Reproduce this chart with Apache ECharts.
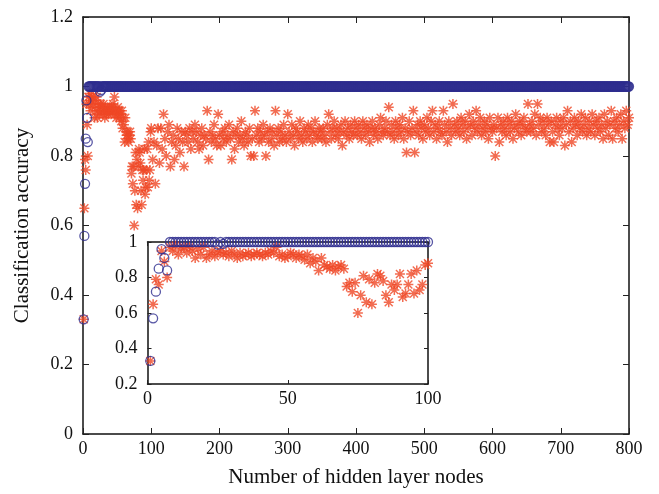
<!DOCTYPE html>
<html>
<head>
<meta charset="utf-8">
<script src="https://cdn.jsdelivr.net/npm/echarts@6/dist/echarts.min.js"></script>
<style>
  html, body { margin: 0; padding: 0; background: #fff; }
  #main { width: 659px; height: 494px; }
</style>
</head>
<body>
<div id="main"></div>
<script>
    // accuracy of the blue (circle) run, nodes 1..30; after that every node sits at 1
    var blueHead = [0.33, 0.57, 0.72, 0.85, 0.96, 0.91, 0.84, 1, 1, 1,
                    1, 1, 1, 1, 1, 1, 1, 1, 1, 1,
                    1, 1, 1, 1, 0.985, 1, 0.99, 1, 1, 1];
    var blueFlat = 1;
    var nodeCount = 800;

    // red (asterisk) run, nodes 1..100, one value per node (also drawn in the inset)
    var redHead = [0.33, 0.65, 0.79, 0.76, 0.95, 0.89, 0.80, 0.97, 0.95, 0.98,
                   0.93, 0.96, 0.97, 0.94, 0.97, 0.95, 0.91, 0.96, 0.93, 0.97,
                   0.91, 0.93, 0.95, 0.92, 0.94, 0.95, 0.93, 0.94, 0.92, 0.95,
                   0.93, 0.91, 0.94, 0.92, 0.93, 0.94, 0.92, 0.93, 0.94, 0.93,
                   0.92, 0.94, 0.93, 0.95, 0.94, 0.97, 0.92, 0.93, 0.91, 0.92,
                   0.94, 0.93, 0.91, 0.93, 0.92, 0.90, 0.93, 0.88, 0.91, 0.89,
                   0.84, 0.91, 0.87, 0.86, 0.85, 0.87, 0.84, 0.86, 0.87, 0.85,
                   0.75, 0.77, 0.72, 0.77, 0.60, 0.70, 0.81, 0.66, 0.79, 0.65,
                   0.77, 0.82, 0.81, 0.78, 0.70, 0.66, 0.76, 0.73, 0.76, 0.82,
                   0.69, 0.71, 0.76, 0.82, 0.71, 0.84, 0.73, 0.76, 0.87, 0.88];

    // red run, nodes 102..800 every 2nd node, in percent
    var redTailStart = 102, redTailStep = 2;
    var redTail = [
        79, 84, 72, 83, 88, 78, 88, 82, 92, 85, 80, 87, 89, 77, 84, 86, 79, 83, 88, 85, 81, 87, 84, 77, 87,
        86, 84, 88, 82, 87, 85, 89, 87, 84, 82, 86, 88, 83, 86, 85, 93, 79, 87, 84, 86, 89, 85, 83, 92, 86,
        83, 87, 85, 88, 84, 86, 89, 85, 79, 87, 82, 86, 88, 84, 86, 90, 85, 83, 87, 86, 84, 88, 80, 85, 80,
        93, 86, 88, 84, 87, 85, 89, 86, 80, 87, 84, 88, 85, 87, 83, 93, 86, 88, 84, 87, 85, 89, 86, 84, 92,
        87, 85, 89, 86, 83, 88, 87, 85, 90, 86, 84, 88, 87, 85, 89, 86, 88, 84, 87, 90, 86, 85, 88, 87, 85,
        88, 86, 84, 89, 92, 87, 85, 88, 90, 86, 88, 85, 87, 89, 83, 87, 90, 86, 88, 85, 89, 87, 86, 90, 88,
        86, 89, 87, 85, 90, 88, 86, 89, 87, 84, 88, 90, 86, 88, 87, 85, 89, 91, 87, 86, 88, 90, 87, 94, 86,
        89, 87, 85, 90, 88, 86, 89, 87, 91, 85, 88, 81, 87, 90, 86, 88, 93, 81, 87, 89, 86, 90, 88, 85, 89,
        87, 91, 88, 86, 90, 93, 87, 89, 85, 88, 90, 87, 86, 93, 89, 87, 84, 90, 88, 86, 95, 89, 87, 90, 88,
        86, 91, 89, 87, 90, 85, 88, 92, 89, 86, 90, 88, 93, 87, 89, 91, 86, 88, 90, 87, 89, 85, 91, 88, 87,
        89, 80, 88, 91, 84, 89, 87, 90, 88, 86, 91, 89, 87, 90, 85, 88, 92, 89, 87, 90, 86, 89, 91, 88, 87,
        95, 89, 87, 90, 88, 92, 86, 95, 89, 91, 87, 90, 88, 86, 91, 89, 84, 90, 87, 84, 89, 91, 88, 86, 90,
        88, 91, 83, 89, 93, 87, 90, 84, 88, 91, 89, 86, 90, 88, 92, 87, 89, 91, 86, 88, 90, 87, 92, 89, 86,
        90, 88, 91, 87, 89, 85, 92, 88, 90, 86, 89, 93, 85, 90, 88, 91, 87, 89, 92, 85, 90, 88, 93, 89, 91
    ];

    var xTicksMain = [0, 800, 100];
    var yTicksMain = [0, 1.2, 0.2];
    var xTicksInset = [0, 100, 50];
    var yTicksInset = [0.2, 1, 0.2];

    var blueColor = '#2e2d8f';
    var redColor = '#ef4726';
    var serif = 'Liberation Serif';
    // 8-armed asterisk, like the '*' marker
    var star = 'path://M8.5,0L11.5,0L11.5,20L8.5,20Z M0,8.5L20,8.5L20,11.5L0,11.5Z ' +
               'M1,3L3,1L19,17L17,19Z M17,1L19,3L3,19L1,17Z';

    var blueAll = [], blueInset = [], redAll = [], redInset = [];
    for (var n = 1; n <= nodeCount; n++) {
        var b = n <= blueHead.length ? blueHead[n - 1] : blueFlat;
        blueAll.push([n, b]);
        if (n <= 100) blueInset.push([n, b]);
    }
    redHead.forEach(function (v, i) {
        redAll.push([i + 1, v]);
        redInset.push([i + 1, v]);
    });
    redTail.forEach(function (v, i) {
        redAll.push([redTailStart + i * redTailStep, v / 100]);
    });

    function mainAxis(grid, pos, ticks, showLabel, extra) {
        var ax = {
            gridIndex: grid, type: 'value', position: pos,
            min: ticks[0], max: ticks[1], interval: ticks[2],
            axisLine: {show: true, onZero: false, lineStyle: {color: '#111', width: 1.5}},
            axisTick: {show: true, inside: true, length: grid === 0 ? 6 : 4, lineStyle: {color: '#222', width: 1}},
            axisLabel: {show: showLabel, color: '#111', fontFamily: serif, fontSize: 18,
                        margin: (pos === 'left') ? 10 : 6},
            splitLine: {show: false}
        };
        for (var k in extra) ax[k] = extra[k];
        return ax;
    }

    var chart = echarts.init(document.getElementById('main'));
    var option = {
        animation: false,
        backgroundColor: '#fff',
        grid: [
            {left: 83, right: 30, top: 17, bottom: 60},
            {left: 147.5, right: 231, top: 242, bottom: 110, show: true, backgroundColor: '#fff', borderWidth: 0}
        ],
        xAxis: [
            mainAxis(0, 'bottom', xTicksMain, true, {
                name: 'Number of hidden layer nodes', nameLocation: 'middle', nameGap: 33,
                nameTextStyle: {color: '#111', fontFamily: serif, fontSize: 21}
            }),
            mainAxis(0, 'top', xTicksMain, false, {}),
            mainAxis(1, 'bottom', xTicksInset, true, {}),
            mainAxis(1, 'top', xTicksInset, false, {})
        ],
        yAxis: [
            mainAxis(0, 'left', yTicksMain, true, {
                name: 'Classification accuracy', nameLocation: 'middle', nameGap: 50,
                nameTextStyle: {color: '#111', fontFamily: serif, fontSize: 21}
            }),
            mainAxis(0, 'right', yTicksMain, false, {}),
            mainAxis(1, 'left', yTicksInset, true, {}),
            mainAxis(1, 'right', yTicksInset, false, {})
        ],
        series: [
            {
                type: 'scatter', xAxisIndex: 0, yAxisIndex: 0, data: redAll, clip: false,
                symbol: star, symbolSize: 10, itemStyle: {color: redColor}
            },
            {
                type: 'scatter', xAxisIndex: 0, yAxisIndex: 0, data: blueAll, clip: false,
                symbol: 'circle', symbolSize: 9,
                itemStyle: {color: 'transparent', borderColor: blueColor, borderWidth: 1.3}
            },
            {
                type: 'scatter', xAxisIndex: 2, yAxisIndex: 2, data: redInset, clip: false,
                symbol: star, symbolSize: 10, itemStyle: {color: redColor}
            },
            {
                type: 'scatter', xAxisIndex: 2, yAxisIndex: 2, data: blueInset, clip: false,
                symbol: 'circle', symbolSize: 9,
                itemStyle: {color: 'transparent', borderColor: blueColor, borderWidth: 1.3}
            }
        ]
    };
    chart.setOption(option);
</script>
</body>
</html>
